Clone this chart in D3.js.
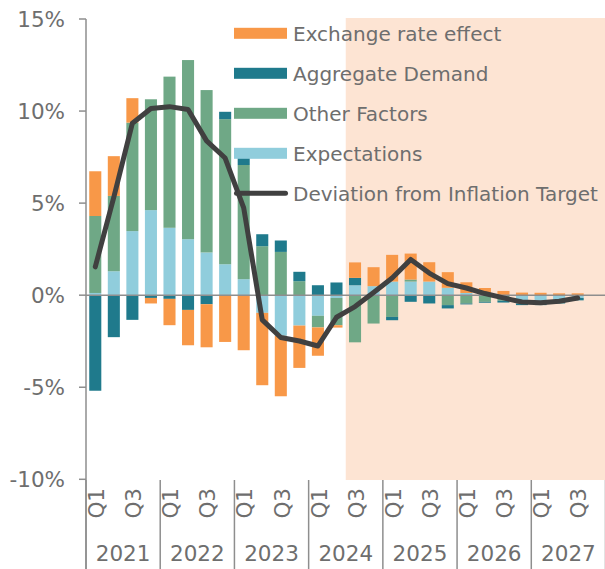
<!DOCTYPE html>
<html>
<head>
<meta charset="utf-8">
<script src="https://cdn.jsdelivr.net/npm/d3@7"></script>
<style>
  html, body { margin: 0; padding: 0; background: #ffffff; }
  svg { display: block; font-family: "DejaVu Sans", sans-serif; }
</style>
</head>
<body>
<svg id="chart" width="605" height="569"></svg>
<script>
// Quarters shown on the axis (2021Q1 .. 2027Q4); data runs to 2027Q3
const years = [2021, 2022, 2023, 2024, 2025, 2026, 2027];
const quarterNames = ["Q1", "Q2", "Q3", "Q4"];
const yTicks = [-10, -5, 0, 5, 10, 15];

// Contributions to deviation from the inflation target (percentage points)
const expectations = [0.12, 1.30, 3.48, 4.62, 3.66, 3.04, 2.32, 1.68, 0.87, -0.96, -2.21, -1.65, -1.12, -0.15,
  0.54, 0.49, 0.74, 0.74, 0.74, 0.40, 0.12, 0.10, 0.0, -0.45, -0.47, -0.36, -0.15];
const otherFactors = [4.18, 4.09, 5.89, 6.02, 8.21, 9.73, 8.82, 7.88, 6.20, 2.66, 2.35, 0.76, -0.63, -1.48,
  -2.56, -1.54, -1.18, 0.11, 0.0, -0.54, -0.45, -0.36, -0.30, 0, 0, 0, 0];
const aggregateDemand = [-5.19, -2.28, -1.34, -0.15, -0.20, -0.80, -0.49, 0.40, 0.40, 0.65, 0.62, 0.51, 0.54, 0.69,
  0.40, 0.0, -0.18, -0.36, -0.45, -0.18, -0.05, -0.05, -0.10, -0.09, -0.07, -0.09, -0.13];
const exchangeRate = [2.43, 2.16, 1.33, -0.30, -1.43, -1.92, -2.34, -2.54, -2.99, -3.93, -3.28, -2.30, -1.54, -0.13,
  0.84, 1.03, 1.45, 1.41, 1.05, 0.85, 0.58, 0.29, 0.23, 0.14, 0.13, 0.10, 0.10];
const deviation = [1.54, 5.33, 9.34, 10.14, 10.24, 10.09, 8.38, 7.45, 4.74, -1.34, -2.30, -2.49, -2.76, -1.20,
  -0.62, 0.15, 0.93, 1.94, 1.20, 0.63, 0.39, 0.09, -0.15, -0.37, -0.41, -0.33, -0.15];

// Forecast period starts at 2024Q3
const forecastStart = "2024Q3";

const quarters = [];
years.forEach(y => quarterNames.forEach(q => quarters.push({ key: y + q, year: y, q })));

const seriesKeys = ["Expectations", "Other Factors", "Aggregate Demand", "Exchange rate effect"];
const seriesData = {
  "Expectations": expectations,
  "Other Factors": otherFactors,
  "Aggregate Demand": aggregateDemand,
  "Exchange rate effect": exchangeRate
};
const colors = {
  "Exchange rate effect": "#f89848",
  "Aggregate Demand": "#1f7a8c",
  "Other Factors": "#6fa886",
  "Expectations": "#90cddc"
};
const lineColor = "#404040";
const textColor = "#6e6e6e";
const axisColor = "#8e8e8e";

const rows = deviation.map((d, i) => {
  const r = { key: quarters[i].key };
  seriesKeys.forEach(k => r[k] = seriesData[k][i]);
  r.deviation = d;
  return r;
});

const svg = d3.select("#chart");
const W = 605, H = 569;
const plot = { left: 86, right: 605.5, top: 18, bottom: 480 };

const x = d3.scaleBand()
  .domain(quarters.map(d => d.key))
  .range([plot.left, plot.right])
  .paddingInner(0.35)
  .paddingOuter(0.175);

const y = d3.scaleLinear().domain([-10, 15]).range([479.3, 19]);

// Shaded forecast period
svg.append("rect")
  .attr("x", x(forecastStart) - x.step() * x.paddingOuter())
  .attr("y", plot.top)
  .attr("width", plot.right - (x(forecastStart) - x.step() * x.paddingOuter()))
  .attr("height", plot.bottom - plot.top)
  .attr("fill", "#fde4d3");

// Stacked bars, positives and negatives stacked away from zero
const stack = d3.stack().keys(seriesKeys).offset(d3.stackOffsetDiverging);
const stacked = stack(rows);

svg.append("g").selectAll("g")
  .data(stacked)
  .join("g")
  .attr("fill", d => colors[d.key])
  .selectAll("rect")
  .data(d => d)
  .join("rect")
  .attr("x", d => x(d.data.key))
  .attr("width", x.bandwidth())
  .attr("y", d => y(Math.max(d[0], d[1])))
  .attr("height", d => Math.abs(y(d[0]) - y(d[1])));

// Zero line
svg.append("line")
  .attr("x1", plot.left).attr("x2", W)
  .attr("y1", y(0)).attr("y2", y(0))
  .attr("stroke", axisColor).attr("stroke-width", 1.5);

// Deviation from target
const line = d3.line()
  .x(d => x(d.key) + x.bandwidth() / 2)
  .y(d => y(d.deviation));

svg.append("path")
  .datum(rows)
  .attr("d", line)
  .attr("fill", "none")
  .attr("stroke", lineColor)
  .attr("stroke-width", 5)
  .attr("stroke-linejoin", "round")
  .attr("stroke-linecap", "round");

// Y axis
const yAxis = svg.append("g");
yAxis.append("line")
  .attr("x1", plot.left).attr("x2", plot.left)
  .attr("y1", y(15)).attr("y2", H)
  .attr("stroke", axisColor).attr("stroke-width", 1.5);
yAxis.selectAll("line.tick")
  .data(yTicks)
  .join("line")
  .attr("class", "tick")
  .attr("x1", plot.left - 7).attr("x2", plot.left)
  .attr("y1", d => y(d)).attr("y2", d => y(d))
  .attr("stroke", axisColor).attr("stroke-width", 1.5);
yAxis.selectAll("text")
  .data(yTicks)
  .join("text")
  .attr("x", 65)
  .attr("y", d => y(d))
  .attr("dy", "0.36em")
  .attr("text-anchor", "end")
  .attr("font-size", 21.5)
  .attr("fill", textColor)
  .text(d => d + "%");

// X axis: quarter labels and year groups
const xAxis = svg.append("g");
xAxis.selectAll("text.q")
  .data(quarters.filter(d => d.q === "Q1" || d.q === "Q3"))
  .join("text")
  .attr("class", "q")
  .attr("transform", d => `translate(${x(d.key) + x.bandwidth() / 2 + 1},488) rotate(-90)`)
  .attr("text-anchor", "end")
  .attr("dy", "0.36em")
  .attr("font-size", 21.5)
  .attr("fill", textColor)
  .text(d => d.q);

const yearStart = yr => x(yr + "Q1") - x.step() * x.paddingOuter();
xAxis.selectAll("line.sep")
  .data(years.concat([years[years.length - 1] + 1]))
  .join("line")
  .attr("class", "sep")
  .attr("x1", (d, i) => i < years.length ? yearStart(d) : plot.right)
  .attr("x2", (d, i) => i < years.length ? yearStart(d) : plot.right)
  .attr("y1", plot.bottom).attr("y2", H)
  .attr("stroke", axisColor).attr("stroke-width", 1.5);
xAxis.selectAll("text.yr")
  .data(years)
  .join("text")
  .attr("class", "yr")
  .attr("x", d => yearStart(d) + x.step() * 2)
  .attr("y", 561)
  .attr("text-anchor", "middle")
  .attr("font-size", 21.5)
  .attr("fill", textColor)
  .text(d => d);

// Legend
const legendItems = ["Exchange rate effect", "Aggregate Demand", "Other Factors", "Expectations", "Deviation from Inflation Target"];
const legend = svg.append("g");
legendItems.forEach((name, i) => {
  const cy = 33.3 + i * 40;
  if (colors[name]) {
    legend.append("rect")
      .attr("x", 234).attr("y", cy - 5.5)
      .attr("width", 53).attr("height", 11)
      .attr("fill", colors[name]);
  } else {
    legend.append("line")
      .attr("x1", 236.5).attr("x2", 285.5)
      .attr("y1", cy).attr("y2", cy)
      .attr("stroke", lineColor).attr("stroke-width", 5)
      .attr("stroke-linecap", "round");
  }
  legend.append("text")
    .attr("x", 293).attr("y", cy)
    .attr("dy", "0.36em")
    .attr("font-size", 20)
    .attr("fill", textColor)
    .text(name);
});
</script>
</body>
</html>
